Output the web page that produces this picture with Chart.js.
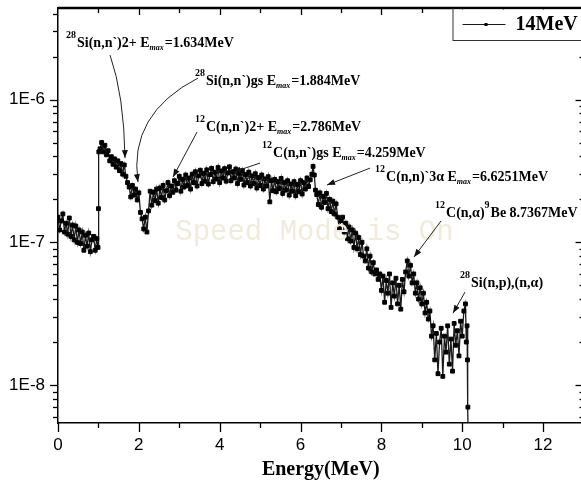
<!DOCTYPE html>
<html lang="en">
<head>
<meta charset="UTF-8">
<title>14MeV neutron spectrum</title>
<script src="https://cdn.jsdelivr.net/npm/chart.js"></script>
<style>
  html, body { margin: 0; padding: 0; background: #fff; overflow: hidden; }
  #wrap { width: 600px; height: 493px; }
</style>
</head>
<body>
<div id="wrap"><canvas id="spectrum" width="600" height="493"></canvas></div>
<script>
// Energy (MeV) of each channel
const energies = [
  0, 0.04, 0.08, 0.12, 0.16, 0.2, 0.24, 0.28, 0.32, 0.36,
  0.4, 0.44, 0.48, 0.52, 0.56, 0.6, 0.64, 0.68, 0.72, 0.76,
  0.8, 0.84, 0.88, 0.92, 0.96, 0.99, 1, 1.01,
  1.04, 1.08, 1.12, 1.16, 1.2, 1.24, 1.28, 1.32, 1.36, 1.4,
  1.44, 1.48, 1.52, 1.56, 1.6, 1.64, 1.68, 1.72, 1.76, 1.8,
  1.84, 1.88, 1.92, 1.96, 2, 2.04, 2.08, 2.12, 2.16, 2.2,
  2.24, 2.28, 2.32, 2.36, 2.4, 2.44, 2.48, 2.52, 2.56, 2.6,
  2.64, 2.68, 2.72, 2.76, 2.8, 2.84, 2.88, 2.92, 2.96, 3,
  3.04, 3.08, 3.12, 3.16, 3.2, 3.24, 3.28, 3.32, 3.36, 3.4,
  3.44, 3.48, 3.52, 3.56, 3.6, 3.64, 3.68, 3.72, 3.76, 3.8,
  3.84, 3.88, 3.92, 3.96, 4, 4.04, 4.08, 4.12, 4.16, 4.2,
  4.24, 4.28, 4.32, 4.36, 4.4, 4.44, 4.48, 4.52, 4.56, 4.6,
  4.64, 4.68, 4.72, 4.76, 4.8, 4.84, 4.88, 4.92, 4.96, 5,
  5.04, 5.08, 5.12, 5.16, 5.2, 5.24, 5.28, 5.32, 5.36, 5.4,
  5.44, 5.48, 5.52, 5.56, 5.6, 5.64, 5.68, 5.72, 5.76, 5.8,
  5.84, 5.88, 5.92, 5.96, 6, 6.04, 6.08, 6.12, 6.16, 6.2,
  6.24, 6.28, 6.31, 6.34, 6.37, 6.4, 6.44, 6.48, 6.52, 6.56,
  6.6, 6.64, 6.68, 6.72, 6.76, 6.8, 6.84, 6.88, 6.92, 6.96,
  7, 7.04, 7.08, 7.12, 7.16, 7.2, 7.24, 7.28, 7.32, 7.36,
  7.4, 7.44, 7.48, 7.52, 7.56, 7.6, 7.64, 7.68, 7.72, 7.76,
  7.8, 7.84, 7.88, 7.92, 7.96, 8, 8.04, 8.08, 8.12, 8.16,
  8.2, 8.24, 8.28, 8.32, 8.36, 8.4, 8.44, 8.48, 8.52, 8.56,
  8.6, 8.64, 8.68, 8.72, 8.76, 8.8, 8.84, 8.88, 8.92, 8.96,
  9, 9.04, 9.08, 9.12, 9.16, 9.2, 9.24, 9.28, 9.32, 9.36,
  9.4, 9.44, 9.48, 9.52, 9.56, 9.6, 9.64, 9.68, 9.72, 9.76,
  9.8, 9.84, 9.88, 9.92, 9.96, 10, 10.04, 10.08, 10.1, 10.12,
  10.13, 10.14, 10.15
];
// Spectrum values, in units of 1E-9
const fluxNano = [
  150, 122, 141, 158, 118, 136, 114, 148, 110, 132,
  104, 130, 100, 122, 98, 118, 88, 112, 94, 116,
  86, 104, 110, 88, 106, 92, 172, 430,
  452, 500, 430, 478, 410, 438, 372, 398, 352, 384,
  336, 372, 318, 356, 300, 348, 290, 262, 244, 208,
  250, 214, 236, 198, 222, 162, 146, 124, 150, 118,
  166, 228, 182, 224, 196, 236, 188, 240, 206, 250,
  198, 230, 262, 212, 248, 224, 270, 232, 258, 290,
  228, 276, 244, 296, 250, 282, 236, 300, 262, 312,
  248, 292, 320, 258, 304, 268, 322, 256, 298, 330,
  266, 310, 278, 334, 262, 316, 282, 328, 268, 306,
  338, 270, 312, 282, 326, 258, 304, 276, 318, 252,
  298, 262, 310, 248, 292, 258, 302, 240, 284, 250,
  296, 236, 278, 248, 288, 192, 270, 230, 276, 226,
  266, 238, 280, 220, 262, 232, 270, 214, 256, 228,
  266, 212, 254, 226, 270, 218, 262, 236, 282, 246,
  274, 300, 340, 296, 232, 216, 184, 222, 176, 210,
  190, 220, 172, 200, 164, 194, 158, 186, 150, 124,
  142, 150, 118, 136, 106, 128, 102, 122, 92, 116,
  90, 108, 82, 100, 80, 74, 90, 66, 80, 62,
  72, 60, 64, 55, 60, 46, 58, 38, 54, 44,
  60, 35, 52, 42, 56, 37, 50, 34, 55, 45,
  62, 74, 58, 69, 52, 60, 44, 52, 40, 48,
  37, 44, 32, 38, 29, 33, 22, 26, 15, 23,
  12, 20, 25, 11.5, 22, 17, 26, 14, 21, 12.5,
  27, 19, 24, 16, 28, 22, 33, 37, 20, 26,
  15, 7, 4
];

const seriesLabel = '14MeV';
const xTitle = 'Energy(MeV)';
const xRange = [0, 13];
const yRange = [5.42e-9, 4.38e-6];
const xTickValues = [0, 2, 4, 6, 8, 10, 12];
const yTickValues = [1e-8, 1e-7, 1e-6];
const yTickLabels = ['1E-8', '1E-7', '1E-6'];
const watermark = 'Speed Mode is On';
const watermarkAt = [2.9, 1.18e-7];

// peak labels: text anchor and arrow path in data coordinates (3 points = curved)
const notes = [
  { at: [0.198, 2.33e-6], parts: [['28', 'sup'], ['Si(n,n`)2+ E'], ['max', 'sub'], ['=1.634MeV']],
    arrow: [[1.287, 2.05e-6], [1.633, 1.075e-6], [1.658, 3.89e-7]] },
  { at: [3.389, 1.264e-6], parts: [['28', 'sup'], ['Si(n,n`)gs E'], ['max', 'sub'], ['=1.884MeV']],
    arrow: [[3.464, 1.415e-6], [1.732, 7.91e-7], [1.979, 2.64e-7]] },
  { at: [3.389, 6.02e-7], parts: [['12', 'sup'], ['C(n,n`)2+ E'], ['max', 'sub'], ['=2.786MeV']],
    arrow: [[3.439, 5.92e-7], [2.845, 2.865e-7]] },
  { at: [5.047, 3.96e-7], parts: [['12', 'sup'], ['C(n,n`)gs E'], ['max', 'sub'], ['=4.259MeV']],
    arrow: [[4.998, 3.59e-7], [4.33, 3.10e-7]] },
  { at: [7.843, 2.69e-7], parts: [['12', 'sup'], ['C(n,n)`3\u03b1 E'], ['max', 'sub'], ['=6.6251MeV']],
    arrow: [[7.719, 3.31e-7], [6.655, 2.52e-7]] },
  { at: [9.327, 1.50e-7], parts: [['12', 'sup'], ['C(n,\u03b1)'], ['9', 'sup'], ['Be 8.7367MeV']],
    arrow: [[9.475, 1.41e-7], [8.807, 7.89e-8]] },
  { at: [9.946, 4.86e-8], parts: [['28', 'sup'], ['Si(n,p),(n,\u03b1)']],
    arrow: [[10.07, 4.48e-8], [9.772, 3.19e-8]] }
];

const serif = '"Liberation Serif", "Times New Roman", serif';
const sans = '"Liberation Sans", Arial, sans-serif';

function drawParts(ctx, x, y, parts) {
  let cx = x;
  parts.forEach(([t, kind]) => {
    if (kind === 'sup') {
      ctx.font = 'bold 10px ' + serif;
      ctx.fillText(t, cx, y - 9);
    } else if (kind === 'sub') {
      ctx.font = 'bold italic 8px ' + serif;
      ctx.fillText(t, cx, y + 3);
    } else {
      ctx.font = 'bold 14px ' + serif;
      ctx.fillText(t, cx, y);
    }
    cx += ctx.measureText(t).width + (kind ? 1 : 0);
  });
}

function arrowHead(ctx, fx, fy, tx, ty) {
  const ang = Math.atan2(ty - fy, tx - fx);
  const len = 8, half = 3;
  ctx.beginPath();
  ctx.moveTo(tx, ty);
  ctx.lineTo(tx - len * Math.cos(ang) + half * Math.sin(ang), ty - len * Math.sin(ang) - half * Math.cos(ang));
  ctx.lineTo(tx - len * Math.cos(ang) - half * Math.sin(ang), ty - len * Math.sin(ang) + half * Math.cos(ang));
  ctx.closePath();
  ctx.fill();
}

const decorations = {
  id: 'decorations',
  afterDatasetsDraw(chart) {
    const { ctx, scales: { x, y } } = chart;
    const px = p => [x.getPixelForValue(p[0]), y.getPixelForValue(p[1])];
    ctx.save();

    // watermark
    ctx.font = '29px "Liberation Mono", "Courier New", monospace';
    ctx.fillStyle = '#f0ebda';
    ctx.textBaseline = 'middle';
    const [wx, wy] = px(watermarkAt);
    ctx.fillText(watermark, wx, wy);

    // notes with arrows
    ctx.textBaseline = 'alphabetic';
    ctx.strokeStyle = '#222';
    ctx.lineWidth = 1;
    notes.forEach(n => {
      const [ax, ay] = px(n.at);
      ctx.fillStyle = '#000';
      drawParts(ctx, ax, ay, n.parts);
      const pts = n.arrow.map(px);
      ctx.beginPath();
      ctx.moveTo(pts[0][0], pts[0][1]);
      if (pts.length === 3) ctx.quadraticCurveTo(pts[1][0], pts[1][1], pts[2][0], pts[2][1]);
      else ctx.lineTo(pts[1][0], pts[1][1]);
      ctx.stroke();
      const end = pts[pts.length - 1], prev = pts[pts.length - 2];
      ctx.fillStyle = '#111';
      arrowHead(ctx, prev[0], prev[1], end[0], end[1]);
    });
    ctx.restore();
  },
  afterDraw(chart) {
    const { ctx, chartArea: a, scales: { x, y } } = chart;
    const ds = chart.data.datasets[0];
    ctx.save();
    ctx.strokeStyle = '#000';
    const seg = (x1, y1, x2, y2) => { ctx.beginPath(); ctx.moveTo(x1, y1); ctx.lineTo(x2, y2); ctx.stroke(); };

    // frame top / right
    ctx.lineWidth = 2.5;
    seg(a.left, a.top, a.right + 2, a.top);
    ctx.lineWidth = 1.5;
    seg(a.right, a.top, a.right, a.bottom);

    // x tick marks
    ctx.lineWidth = 1.3;
    for (let e = xRange[0]; e < xRange[1]; e++) {
      const p = Math.round(x.getPixelForValue(e)) + 0.5;
      const major = e % 2 === 0;
      seg(p, a.bottom, p, a.bottom + (major ? 9 : 5));
      if (e > 0) seg(p, a.top, p, a.top + (major ? 7 : 5));
    }
    // y tick marks
    for (let d = -9; d <= -6; d++) {
      for (let m = 1; m <= 9; m++) {
        const v = m * Math.pow(10, d);
        if (v < yRange[0] || v > yRange[1]) continue;
        const p = Math.round(y.getPixelForValue(v)) + 0.5;
        const major = m === 1;
        seg(a.left - (major ? 8 : 5), p, a.left, p);
        seg(a.right - (major ? 8 : 4), p, a.right, p);
      }
    }

    // legend box
    const bx = a.right - 131, by = a.top, bh = 32;
    ctx.fillStyle = '#fff';
    ctx.fillRect(bx, by + 1.5, a.right - bx, bh - 1.5);
    ctx.lineWidth = 1;
    ctx.strokeStyle = '#333';
    seg(bx + 0.5, by, bx + 0.5, by + bh);
    seg(bx, by + bh + 0.5, a.right, by + bh + 0.5);
    ctx.strokeStyle = ds.borderColor;
    seg(bx + 10, by + 16.5, bx + 53, by + 16.5);
    ctx.fillStyle = '#000';
    ctx.fillRect(bx + 32, by + 15, 3, 3);
    ctx.font = 'bold 20px ' + serif;
    ctx.textBaseline = 'middle';
    ctx.fillText(ds.label, bx + 63, by + 17);
    ctx.restore();
  }
};

new Chart(document.getElementById('spectrum'), {
  type: 'line',
  data: {
    datasets: [{
      label: seriesLabel,
      data: energies.map((e, i) => ({ x: e, y: fluxNano[i] * 1e-9 })),
      borderColor: '#1a1a1a',
      borderWidth: 1.3,
      pointStyle: 'rect',
      pointRadius: 2.7,
      pointBorderWidth: 1,
      pointBackgroundColor: '#000',
      pointBorderColor: '#000',
      tension: 0
    }]
  },
  options: {
    responsive: false,
    animation: false,
    layout: { padding: { top: 8, right: 16.5, left: 0, bottom: 0 } },
    plugins: { legend: { display: false }, tooltip: { enabled: false } },
    scales: {
      x: {
        type: 'linear',
        min: xRange[0],
        max: xRange[1],
        grid: { display: false, drawTicks: false },
        border: { color: '#000', width: 1.5 },
        ticks: { color: '#000', padding: 12, font: { family: sans, size: 17 } },
        afterBuildTicks: s => { s.ticks = xTickValues.map(v => ({ value: v })); },
        afterFit: s => { s.height = 70; s.paddingLeft = 0; s.paddingRight = 0; },
        title: {
          display: true,
          text: xTitle,
          color: '#000',
          font: { family: serif, size: 20, weight: 'bold' },
          padding: { top: 0, bottom: 11 }
        }
      },
      y: {
        type: 'logarithmic',
        min: yRange[0],
        max: yRange[1],
        grid: { display: false, drawTicks: false },
        border: { color: '#000', width: 1.5 },
        ticks: {
          color: '#000',
          padding: 13,
          font: { family: sans, size: 17 },
          callback: v => yTickLabels[yTickValues.indexOf(v)]
        },
        afterBuildTicks: s => { s.ticks = yTickValues.map(v => ({ value: v })); },
        afterFit: s => { s.width = 58; s.paddingTop = 0; s.paddingBottom = 0; }
      }
    }
  },
  plugins: [decorations]
});
</script>
</body>
</html>
